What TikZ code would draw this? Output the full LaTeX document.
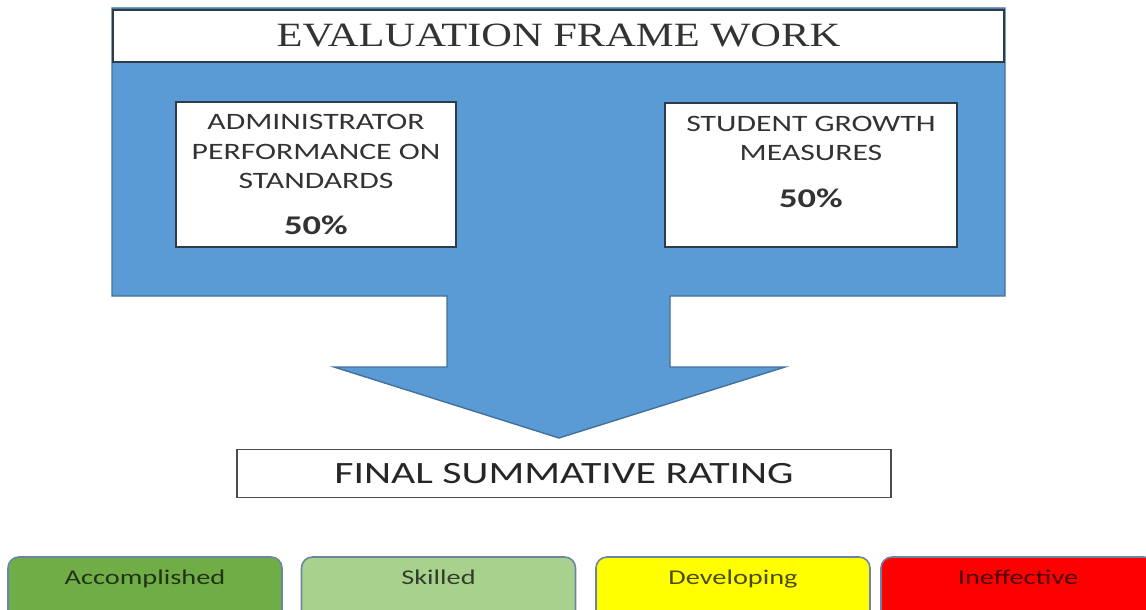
\documentclass[tikz,border=0pt]{standalone}
\usepackage{fontspec}
\usepackage{xcolor}
\usepackage{tikz}
\usetikzlibrary{positioning}
\newfontfamily\calfont[FakeStretch=1.35]{Carlito}
\newfontfamily\titlefont[FakeStretch=1.25]{Liberation Serif}
\definecolor{frameblue}{HTML}{5B9BD5}
\definecolor{frameline}{HTML}{41719C}
\definecolor{panelline}{HTML}{2E3B48}
\definecolor{gradeline}{HTML}{6A86A3}
\definecolor{accgreen}{HTML}{70AD47}
\definecolor{skillgreen}{HTML}{A9D18E}
\definecolor{devyellow}{HTML}{FFFF00}
\definecolor{ineffred}{HTML}{FF0000}
\newcommand{\pct}{{\fontsize{27}{30}\selectfont\bfseries 50\%}}

\begin{document}
\begin{tikzpicture}[x=1pt, y=-1pt,
	panel/.style={draw=panelline, line width=1.4pt, fill=white, text=black!80},
	grade/.style={draw=gradeline, line width=1.6pt, rounded corners=11pt, minimum width=274pt, minimum height=70pt},
	gradetext/.style={font=\calfont\fontsize{21}{24}\selectfont, text opacity=0.7}]
		\useasboundingbox (0,0) rectangle (1146,610);
		\clip (0,0) rectangle (1146,610);
		
		% frame with the arrow below it
		\draw [frameline, fill=frameblue, line width=1.4pt] (112,8) -- (1005,8) -- (1005,296) -- (670,296) -- (670,367) -- (785,367) -- (559,438) -- (334,367) -- (447,367) -- (447,296) -- (112,296) -- cycle;
		
		\node (title) [panel, draw=panelline, minimum width=891pt, minimum height=52pt, font=\titlefont\fontsize{34}{38}\selectfont] at (558.5,36) {EVALUATION FRAME WORK};
		
		\node (admin) [panel, minimum width=280pt, minimum height=145pt, align=center, font=\calfont\fontsize{23.5}{29.5}\selectfont] at (316,174.5) {ADMINISTRATOR\\PERFORMANCE ON\\STANDARDS\\[16pt]\pct};
		
		\node (growth) [panel, minimum width=292pt, minimum height=144pt] at (811,175) {};
		\node (growthtext) [below=10pt, align=center, text=black!80, font=\calfont\fontsize{23.5}{29.5}\selectfont] at (growth.north) {STUDENT GROWTH\\MEASURES\\[17pt]\pct};
		
		\node (final) [panel, draw=black!70, minimum width=654pt, minimum height=48pt, text=black!85, font=\calfont\fontsize{31}{34}\selectfont] at (564,473.5) {FINAL SUMMATIVE RATING};
		
		% rating scale
		\node (acc) [grade, fill=accgreen] at (145,592) {};
		\node (skill) [grade, fill=skillgreen] at (438.5,592) {};
		\node (dev) [grade, fill=devyellow] at (733,592) {};
		\node (ineff) [grade, fill=ineffred] at (1018,592) {};
		
		\node (acclabel) [gradetext, below=10pt] at (acc.north) {Accomplished};
		\node (skilllabel) [gradetext, below=10pt] at (skill.north) {Skilled};
		\node (devlabel) [gradetext, below=10pt] at (dev.north) {Developing};
		\node (inefflabel) [gradetext, below=10pt] at (ineff.north) {Ineffective};
\end{tikzpicture}
\end{document}
